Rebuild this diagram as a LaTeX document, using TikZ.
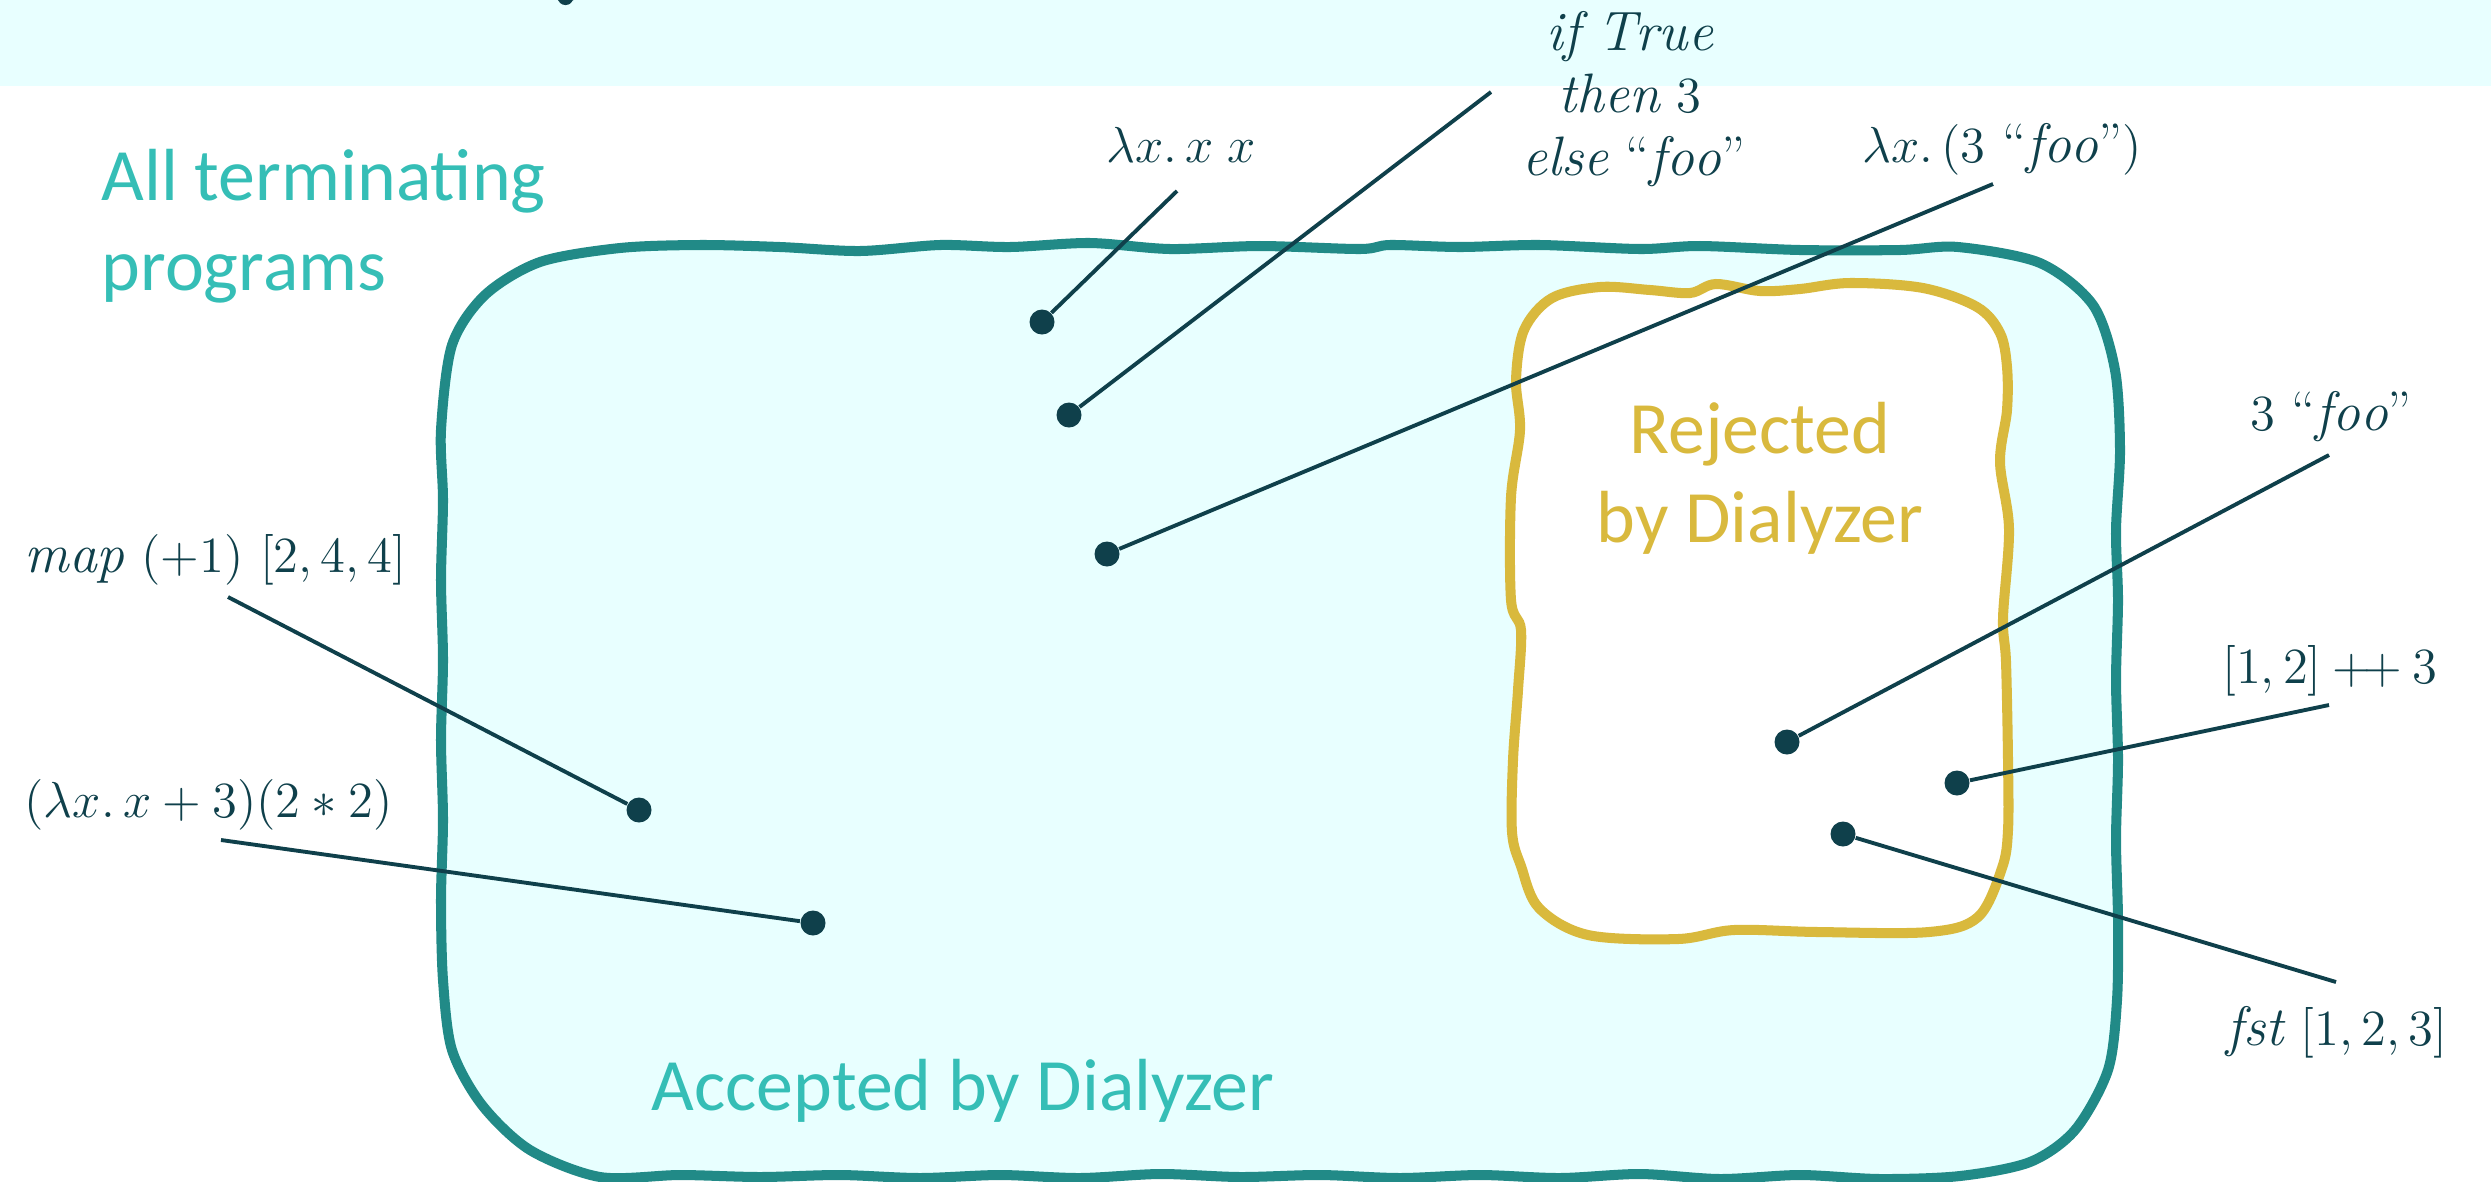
\documentclass[tikz,border=0pt]{standalone}
\usepackage{fontspec}
\newfontfamily\calfont{Carlito}
\definecolor{bandc}{RGB}{232,255,255}
\definecolor{tealline}{RGB}{33,138,135}
\definecolor{tealtext}{RGB}{53,190,182}
\definecolor{goldc}{RGB}{217,185,61}
\definecolor{darkc}{RGB}{15,64,75}
\tikzset{
  dotnode/.style={circle, fill=darkc, minimum size=0.25cm, inner sep=0pt},
  lead/.style={draw=darkc, line width=1.1pt},
  mlabel/.style={text=darkc, font=\fontsize{15.8}{18}\selectfont, inner sep=0pt},
  biglabel/.style={font=\calfont\fontsize{21}{25}\selectfont, inner sep=0pt},
  blobline/.style={line width=2.85pt},
}
\begin{document}
\begin{tikzpicture}[x=0.01cm, y=-0.01cm]
\useasboundingbox (0,0) rectangle (2491,1181);
% top band
\fill[bandc] (0,0) rectangle (2491,86);
\fill[darkc, rounded corners=2pt] (558,-6) rectangle (573,5);
% all terminating programs region
\draw[tealline, blobline, fill=bandc] plot[smooth cycle, tension=0.5] coordinates {
 (441,430) (452,345) (485,295) (540,262) (620,248) (700,245) (780,247) (860,251)
 (940,245) (1010,247) (1090,243) (1170,249) (1260,246) (1360,249) (1390,245)
 (1460,247) (1540,245) (1640,249) (1700,246) (1800,250) (1900,250) (1958,247)
 (2040,263) (2093,305) (2115,370) (2120,450) (2116,530) (2118,600) (2116,680)
 (2118,760) (2116,840) (2118,920) (2117,1000) (2108,1070) (2075,1130) (2030,1162)
 (1960,1176) (1880,1179) (1800,1175) (1720,1179) (1640,1174) (1560,1178) (1480,1175)
 (1400,1178) (1320,1175) (1240,1177) (1160,1174) (1080,1178) (1000,1175) (920,1178)
 (840,1175) (760,1177) (680,1175) (600,1177) (530,1150) (482,1105) (452,1050)
 (443,980) (441,900) (443,820) (441,740) (443,660) (441,580) (443,500)};
% rejected region
\draw[goldc, blobline, fill=white] plot[smooth cycle, tension=0.55] coordinates {
 (1516,380) (1524,330) (1552,298) (1600,287) (1650,290) (1690,293) (1716,284)
 (1760,291) (1800,289) (1850,283) (1923,288) (1977,307) (2000,333) (2007,367)
 (2007,410) (2000,462) (2009,529) (2003,618) (2006,662) (2008,760) (2008,830)
 (2002,868) (1978,917) (1929,932) (1818,932) (1734,930) (1678,939) (1588,935)
 (1539,908) (1521,866) (1512,832) (1513,760) (1518,690) (1521,630) (1511,600)
 (1511,497) (1520,430)};
% region texts
\node[biglabel, text=tealtext, anchor=base west] (allt1) at (101,200) {All terminating};
\node[biglabel, text=tealtext, anchor=base west] (allt2) at (101,290) {programs};
\node[biglabel, text=goldc, anchor=base] (rej1) at (1760,453) {Rejected};
\node[biglabel, text=goldc, anchor=base] (rej2) at (1760,542) {by Dialyzer};
\node[biglabel, text=tealtext, anchor=base west] (acc) at (651,1110) {Accepted by Dialyzer};
% dots
\node[dotnode] (d1) at (1042,322) {};
\node[dotnode] (d2) at (1069,415) {};
\node[dotnode] (d3) at (1107,554) {};
\node[dotnode] (d4) at (639,810) {};
\node[dotnode] (d5) at (813,923) {};
\node[dotnode] (d6) at (1787,742) {};
\node[dotnode] (d7) at (1957,783) {};
\node[dotnode] (d8) at (1843,834) {};
% leader ends
\coordinate (c1) at (1177,191);
\coordinate (c2) at (1491,92);
\coordinate (c3) at (1993,184);
\coordinate (c4) at (228,597);
\coordinate (c5) at (221,840);
\coordinate (c6) at (2329,455);
\coordinate (c7) at (2329,705);
\coordinate (c8) at (2336,982);
\draw[lead] (d1) -- (c1);
\draw[lead] (d2) -- (c2);
\draw[lead] (d3) -- (c3);
\draw[lead] (c4) -- (d4);
\draw[lead] (c5) -- (d5);
\draw[lead] (d6) -- (c6);
\draw[lead] (d7) -- (c7);
\draw[lead] (d8) -- (c8);
% expression labels
\node[mlabel, anchor=base] (l1) at (1181,162) {$\lambda x.\,x\;x$};
\node[mlabel, anchor=base] (l2a) at (1630,50) {$\mathit{if}\ \mathit{True}$};
\node[mlabel, anchor=base] (l2b) at (1630,112) {$\mathit{then}\ 3$};
\node[mlabel, anchor=base] (l2c) at (1634,175) {$\mathit{else}\ \mbox{“}\mathit{foo}\mbox{”}$};
\node[mlabel, anchor=base] (l3) at (2002,162) {$\lambda x.\,(3\ \mbox{“}\mathit{foo}\mbox{”})$};
\node[mlabel, anchor=base west] (l4) at (24,572) {$\mathit{map}\ (+1)\ [2,4,4]$};
\node[mlabel, anchor=base west] (l5) at (24,817) {$(\lambda x.\,x+3)(2*2)$};
\node[mlabel, anchor=base] (l6) at (2331,430) {$3\ \mbox{“}\mathit{foo}\mbox{”}$};
\node[mlabel, anchor=base] (l7) at (2330,683) {$[1,2]\mathbin{+\!+}3$};
\node[mlabel, anchor=base] (l8) at (2337,1045) {$\mathit{fst}\ [1,2,3]$};
\end{tikzpicture}
\end{document}
